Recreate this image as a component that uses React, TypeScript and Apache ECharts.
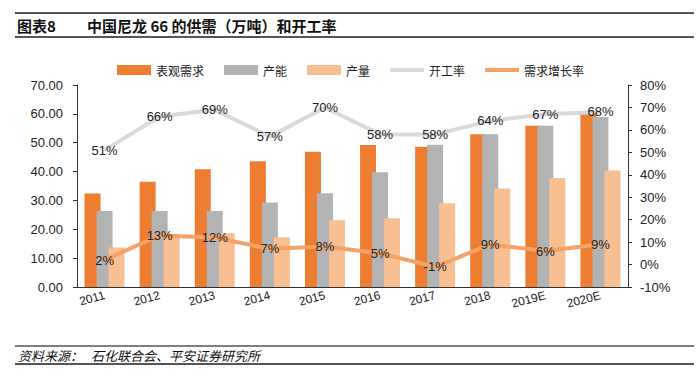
import React, { useEffect, useRef } from "react";
import * as echarts from "echarts";

const years = ["2011", "2012", "2013", "2014", "2015", "2016", "2017", "2018", "2019E", "2020E"];
const demand = [32.4, 36.5, 40.8, 43.6, 46.9, 49.2, 48.6, 52.9, 55.9, 60.0];
const capacity = [26.3, 26.3, 26.3, 29.3, 32.5, 39.8, 49.3, 52.9, 55.9, 58.9];
const output = [13.7, 17.3, 18.6, 17.2, 23.1, 23.8, 29.0, 34.1, 37.8, 40.4];
const utilization = [51, 66, 69, 57, 70, 58, 58, 64, 67, 68];
const demandGrowth = [2, 13, 12, 7, 8, 5, -1, 9, 6, 9];

const titleLabel = "图表8";
const titleText = "中国尼龙 66 的供需（万吨）和开工率";
const footerLabel = "资料来源：";
const footerText = "石化联合会、平安证券研究所";

const CJK = '"Noto Sans CJK SC", "Noto Sans", sans-serif';
const LATIN = '"Liberation Sans", Arial, "Noto Sans CJK SC", sans-serif';
const LINE_ICON = "path://M0,0 L34,0 L34,4 L0,4 Z";

export default function App() {
  const ref = useRef<HTMLDivElement>(null);
  useEffect(() => {
    if (!ref.current) return;
    const chart = echarts.init(ref.current, undefined, { renderer: "svg" });
    const pctLabel = {
      show: true,
      position: "inside" as const,
      formatter: (p: any) => `${p.value}%`,
      color: "#222",
      fontSize: 13,
      fontFamily: LATIN,
    };
    chart.setOption({
      animation: false,
      backgroundColor: "#fff",
      textStyle: { fontFamily: LATIN },
      graphic: [
        { type: "line", shape: { x1: 15, y1: 13, x2: 694, y2: 13 }, style: { stroke: "#555", lineWidth: 2 } },
        { type: "line", shape: { x1: 15, y1: 37, x2: 694, y2: 37 }, style: { stroke: "#555", lineWidth: 2 } },
        { type: "text", x: 17, y: 25, style: { text: titleLabel, font: `bold 15px ${CJK}`, fill: "#111", textVerticalAlign: "middle" } },
        { type: "text", x: 87, y: 25, style: { text: titleText, font: `bold 15px ${CJK}`, fill: "#111", textVerticalAlign: "middle" } },
        { type: "line", shape: { x1: 15, y1: 346, x2: 694, y2: 346 }, style: { stroke: "#555", lineWidth: 1.5 } },
        { type: "line", shape: { x1: 15, y1: 364, x2: 694, y2: 364 }, style: { stroke: "#555", lineWidth: 2 } },
        { type: "text", x: 18, y: 355, style: { text: footerLabel, font: `italic 13px ${CJK}`, fill: "#111", textVerticalAlign: "middle" } },
        { type: "text", x: 91, y: 355, style: { text: footerText, font: `italic 13px ${CJK}`, fill: "#111", textVerticalAlign: "middle" } },
      ],
      legend: {
        left: 112,
        top: 59,
        itemWidth: 34,
        itemHeight: 10,
        itemGap: 20,
        textStyle: { fontSize: 12, color: "#222", fontFamily: CJK },
        data: [
          { name: "表观需求", icon: "rect" },
          { name: "产能", icon: "rect" },
          { name: "产量", icon: "rect" },
          { name: "开工率", icon: LINE_ICON },
          { name: "需求增长率", icon: LINE_ICON },
        ],
      },
      grid: { left: 77, right: 72, top: 85, bottom: 87 },
      xAxis: {
        type: "category",
        data: years,
        axisLine: { lineStyle: { color: "#333", width: 1 } },
        axisTick: { inside: true, length: 5, lineStyle: { color: "#333" } },
        axisLabel: { rotate: 15, fontSize: 12, color: "#222", margin: 8, fontFamily: LATIN },
      },
      yAxis: [
        {
          type: "value",
          min: 0,
          max: 70,
          interval: 10,
          splitLine: { show: false },
          axisLine: { show: true, lineStyle: { color: "#333" } },
          axisTick: { show: true, length: 4, lineStyle: { color: "#333" } },
          axisLabel: { formatter: (v: number) => v.toFixed(2), fontSize: 13, color: "#222", margin: 14, fontFamily: LATIN },
        },
        {
          type: "value",
          min: -10,
          max: 80,
          interval: 10,
          splitLine: { show: false },
          axisLine: { show: true, lineStyle: { color: "#333" } },
          axisTick: { show: true, length: 4, lineStyle: { color: "#333" } },
          axisLabel: { formatter: (v: number) => `${v}%`, fontSize: 13, color: "#222", margin: 12, fontFamily: LATIN },
        },
      ],
      series: [
        { name: "表观需求", type: "bar", data: demand, barWidth: 16, barGap: "-25%", itemStyle: { color: "#ED7D31" } },
        { name: "产能", type: "bar", data: capacity, barWidth: 16, barGap: "-25%", itemStyle: { color: "#B3B3B3" } },
        { name: "产量", type: "bar", data: output, barWidth: 16, barGap: "-25%", itemStyle: { color: "#F7BF92" } },
        {
          name: "开工率",
          type: "line",
          yAxisIndex: 1,
          data: utilization,
          symbol: "circle",
          symbolSize: 1,
          showSymbol: true,
          lineStyle: { color: "#DADADA", width: 4 },
          itemStyle: { color: "#DADADA" },
          label: pctLabel,
        },
        {
          name: "需求增长率",
          type: "line",
          yAxisIndex: 1,
          data: demandGrowth,
          symbol: "circle",
          symbolSize: 1,
          showSymbol: true,
          lineStyle: { color: "#F4A266", width: 4 },
          itemStyle: { color: "#F4A266" },
          label: pctLabel,
        },
      ],
    });
    return () => chart.dispose();
  }, []);
  return <div ref={ref} style={{ position: "absolute", left: 0, top: 0, width: 700, height: 374 }} />;
}
